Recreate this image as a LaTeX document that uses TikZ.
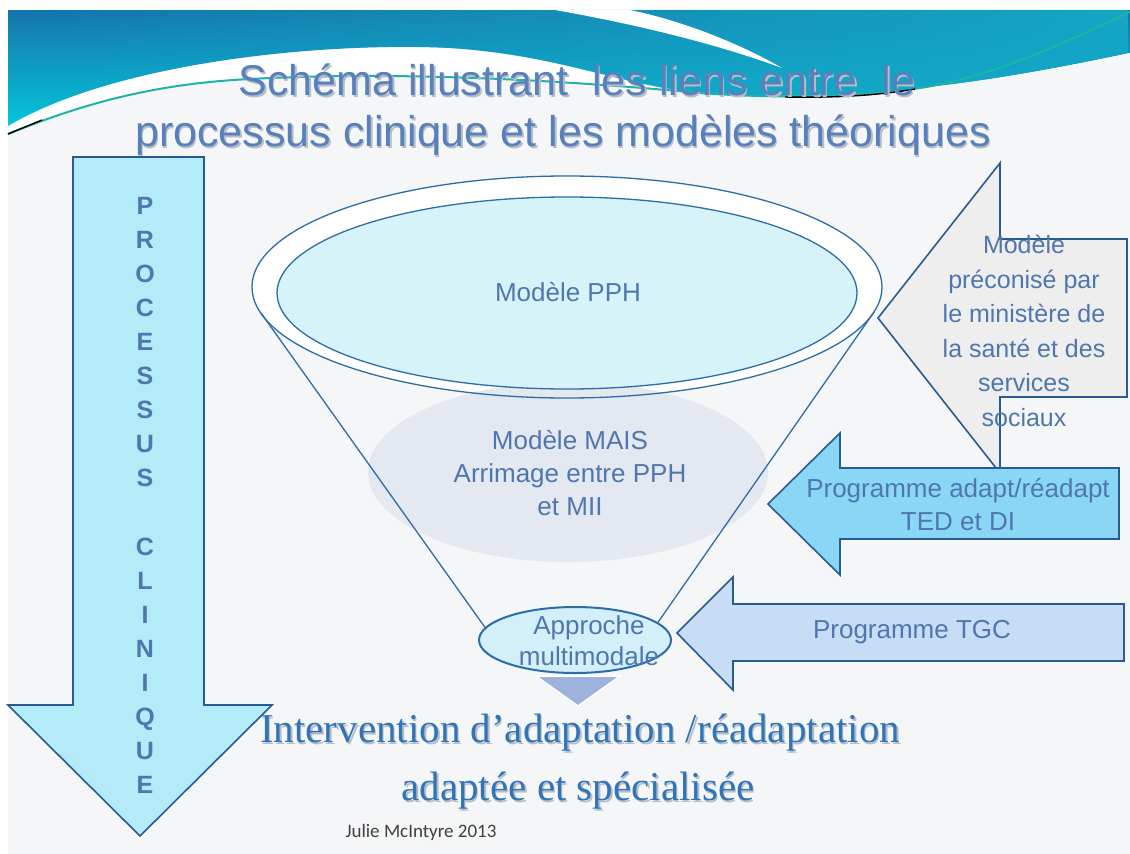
\documentclass[tikz,border=0pt]{standalone}
\usepackage{fontspec}
\setmainfont{Liberation Sans}
\newfontfamily\serifinter{Liberation Serif}
\newfontfamily\signature{Carlito}
\usepackage{xcolor}
\usepackage{tikz}
\usetikzlibrary{arrows.meta, positioning, shapes.geometric, fadings}

\definecolor{fond}{HTML}{F4F6F7}
\definecolor{bandeauA}{HTML}{1674AA}
\definecolor{bandeauB}{HTML}{05C6DC}
\definecolor{bandeauC}{HTML}{14A6C6}
\definecolor{ruban}{HTML}{1FB3A6}
\definecolor{contour}{HTML}{285C90}
\definecolor{bordure}{HTML}{2C6DA8}
\definecolor{ciel}{HTML}{B3EBF9}
\definecolor{pph}{HTML}{D6F3FA}
\definecolor{mais}{HTML}{E4E8F0}
\definecolor{approchefond}{HTML}{D3F0FA}
\definecolor{pointe}{HTML}{9DB2DD}
\definecolor{grisfleche}{HTML}{EEEEEE}
\definecolor{cyanfleche}{HTML}{8AD7F5}
\definecolor{tgcfleche}{HTML}{C6DDF5}
\definecolor{bleutexte}{HTML}{4F76AE}
\definecolor{bleutitre}{HTML}{5880BC}
\definecolor{bleuinter}{HTML}{3274B8}
\definecolor{ombre}{HTML}{B7BDC4}

\tikzfading[name=versdroite, left color=transparent!100, right color=transparent!0]

\tikzset{
  fleche/.style={draw=contour, line width=1.6pt, line join=miter},
  etiquette/.style={text=bleutexte, font=\fontsize{26}{33}\selectfont, align=center},
  titre/.style={font=\fontsize{43}{50}\selectfont, text=bleutitre},
  inter/.style={font=\serifinter\fontsize{41}{48}\selectfont, text=bleuinter},
  lettre/.style={font=\bfseries\fontsize{25}{30}\selectfont, text=bleutexte, anchor=base}
}

\begin{document}
\begin{tikzpicture}[x=1pt, y=-1pt]
\useasboundingbox (0,0) rectangle (1130,854);
\fill[white] (0,0) rectangle (1130,854);
\fill[fond] (8,10) rectangle (1130,854);

% bandeau du haut
\fill[white] (8,10) rectangle (1130,140);
\def\bandeau{(8,10) -- (1130,10) -- (1130,53)
  .. controls (1050,70) and (980,82) .. (920,88)
  .. controls (860,96) and (780,98) .. (700,93)
  .. controls (620,85) and (560,55) .. (450,48)
  .. controls (330,42) and (120,60) .. (8,126) -- cycle}
\shade[top color=bandeauA, bottom color=bandeauB] \bandeau;
\fill[bandeauC, path fading=versdroite] \bandeau;
\fill[fond] (8,140) -- (8,134) .. controls (80,105) and (150,84) .. (250,79)
  .. controls (400,71) and (560,80) .. (700,93)
  .. controls (780,99) and (860,97) .. (920,88)
  .. controls (980,82) and (1050,70) .. (1130,53) -- (1130,140) -- cycle;
\draw[ruban, line width=2pt] (8,134) .. controls (80,105) and (150,84) .. (250,79)
  .. controls (400,71) and (560,80) .. (700,93)
  .. controls (780,99) and (860,97) .. (920,88)
  .. controls (1000,76) and (1080,35) .. (1130,12);
\draw[black, line width=1.4pt] (8,134) .. controls (20,129) and (30,125) .. (42,120);
\draw[black, line width=1.4pt] (785,97) .. controls (840,98) and (880,95) .. (915,89);
\fill[white] (555,10) .. controls (640,25) and (720,45) .. (782,68)
  .. controls (730,38) and (670,18) .. (630,10) -- cycle;

\node[titre, text=ombre, anchor=base] (titre1ombre) at (578.5,97.5) {Schéma illustrant\ \ les liens entre\ \ le};
\node[titre, anchor=base] (titre1) at (577,95) {Schéma illustrant\ \ les liens entre\ \ le};
\node[titre, text=ombre, anchor=base] (titre2ombre) at (564.5,148.5) {processus clinique et les modèles théoriques};
\node[titre, anchor=base] (titre2) at (563,146) {processus clinique et les modèles théoriques};

% processus clinique
\draw[fleche, fill=ciel] (73,157) -- (204,157) -- (204,705) -- (272,705) -- (140,836) -- (8,705) -- (73,705) -- cycle;
\foreach \l [count=\i] in {P,R,O,C,E,S,S,U,S,{},C,L,I,N,I,Q,U,E}
  \node[lettre] (lettre\i) at (145,{214+34.1*(\i-1)}) {\l};

% entonnoir
\fill[white] (567,287) ellipse [x radius=315, y radius=111];
\fill[mais] (568,472) ellipse [x radius=200, y radius=90];
\draw[bordure, line width=1.3pt, fill=pph] (567,293) ellipse [x radius=290, y radius=96];
\draw[bordure, line width=1.3pt] (567,287) ellipse [x radius=315, y radius=111];
\coordinate (bordG) at (261,313);
\coordinate (bordD) at (874,312);
\fill[pointe, draw=white, line width=1.5pt] (536,676) -- (620,676) -- (578,706) -- cycle;
\node[ellipse, draw=bordure, line width=2pt, fill=approchefond, minimum width=192pt, minimum height=66pt, inner sep=0pt] (approcheforme) at (575,640) {};
\draw[bordure, line width=1.3pt] (bordG) -- (approcheforme.172);
\draw[bordure, line width=1.3pt] (bordD) -- (approcheforme.12);

\node[etiquette] (pph) at (568,292) {Modèle PPH};
\node[etiquette] (maistexte) at (570,473) {Modèle MAIS\\Arrimage entre PPH\\et MII};
\node[etiquette] (approche) at (589,641) {Approche\\[-2pt]multimodale};

% fleches de droite
\draw[fleche, fill=grisfleche] (1127,239) -- (1000,239) -- (1000,163) -- (878,318) -- (1000,473) -- (1000,397) -- (1127,397) -- cycle;
\node[etiquette, font=\fontsize{25}{34.5}\selectfont] (ministere) at (1024,331) {Modèle\\préconisé par\\le ministère de\\la santé et des\\services\\sociaux};
\draw[fleche, fill=cyanfleche] (1119,468) -- (840,468) -- (840,433) -- (768,504) -- (840,575) -- (840,539) -- (1119,539) -- cycle;
\node[etiquette] (ted) at (958,505) {Programme adapt/réadapt\\TED et DI};
\draw[fleche, fill=tgcfleche] (1124,604) -- (733,604) -- (733,577) -- (677,633) -- (733,690) -- (733,661) -- (1124,661) -- cycle;
\node[etiquette] (tgc) at (912,632) {Programme TGC};

% intervention
\node[inter, text=ombre, anchor=base] (inter1ombre) at (581.5,744) {Intervention d’adaptation /réadaptation};
\node[inter, anchor=base] (inter1) at (580,742) {Intervention d’adaptation /réadaptation};
\node[inter, text=ombre, anchor=base] (inter2ombre) at (579.5,802) {adaptée et spécialisée};
\node[inter, anchor=base] (inter2) at (578,800) {adaptée et spécialisée};
\node[font=\signature\fontsize{19}{22}\selectfont, text=black!75] (auteur) at (421,832) {Julie McIntyre 2013};
\end{tikzpicture}
\end{document}
